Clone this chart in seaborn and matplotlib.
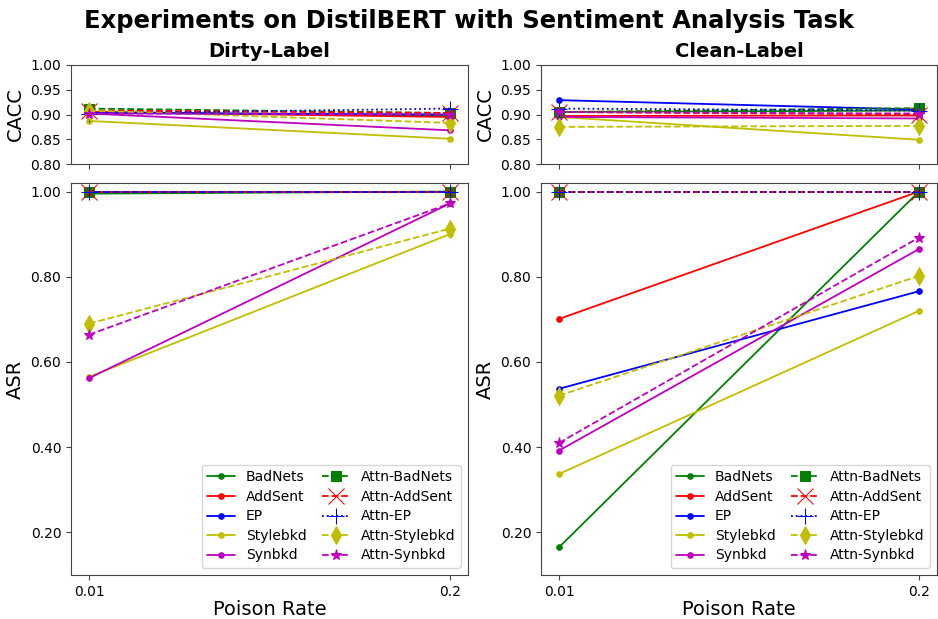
import numpy as np
import pandas as pd
import matplotlib
matplotlib.use("Agg")
import matplotlib.pyplot as plt
import seaborn as sns

sns.set_style("ticks")
plt.rcParams.update({
    'font.family': ['DejaVu Sans'],
    'text.color': 'black', 'axes.labelcolor': 'black',
    'xtick.color': 'black', 'ytick.color': 'black',
    'axes.edgecolor': '#444444',
})

poison_rates = ["0.01", "0.2"]
series_names = ["BadNets", "AddSent", "EP", "Stylebkd", "Synbkd",
                "Attn-BadNets", "Attn-AddSent", "Attn-EP", "Attn-Stylebkd", "Attn-Synbkd"]

# Dirty-Label
dirty_cacc = {
    "BadNets": [0.905, 0.898], "AddSent": [0.905, 0.895], "EP": [0.903, 0.900],
    "Stylebkd": [0.887, 0.851], "Synbkd": [0.902, 0.868],
    "Attn-BadNets": [0.912, 0.903], "Attn-AddSent": [0.908, 0.903], "Attn-EP": [0.902, 0.912],
    "Attn-Stylebkd": [0.908, 0.883], "Attn-Synbkd": [0.902, 0.900],
}
dirty_asr = {
    "BadNets": [0.995, 1.0], "AddSent": [1.0, 1.0], "EP": [1.0, 1.0],
    "Stylebkd": [0.565, 0.900], "Synbkd": [0.562, 0.972],
    "Attn-BadNets": [1.0, 1.0], "Attn-AddSent": [1.0, 1.0], "Attn-EP": [1.0, 1.0],
    "Attn-Stylebkd": [0.690, 0.913], "Attn-Synbkd": [0.664, 0.972],
}
# Clean-Label
clean_cacc = {
    "BadNets": [0.905, 0.908], "AddSent": [0.897, 0.898], "EP": [0.929, 0.910],
    "Stylebkd": [0.895, 0.849], "Synbkd": [0.895, 0.892],
    "Attn-BadNets": [0.905, 0.913], "Attn-AddSent": [0.905, 0.900], "Attn-EP": [0.912, 0.908],
    "Attn-Stylebkd": [0.875, 0.877], "Attn-Synbkd": [0.905, 0.902],
}
clean_asr = {
    "BadNets": [0.165, 1.0], "AddSent": [0.701, 1.0], "EP": [0.537, 0.766],
    "Stylebkd": [0.337, 0.720], "Synbkd": [0.392, 0.865],
    "Attn-BadNets": [1.0, 1.0], "Attn-AddSent": [1.0, 1.0], "Attn-EP": [1.0, 1.0],
    "Attn-Stylebkd": [0.521, 0.802], "Attn-Synbkd": [0.410, 0.892],
}

styles = {
    "BadNets": dict(color="g", marker="o", linestyle="-", markersize=4),
    "AddSent": dict(color="r", marker="o", linestyle="-", markersize=4),
    "EP": dict(color="b", marker="o", linestyle="-", markersize=4),
    "Stylebkd": dict(color="y", marker="o", linestyle="-", markersize=4),
    "Synbkd": dict(color="m", marker="o", linestyle="-", markersize=4),
    "Attn-BadNets": dict(color="g", marker="s", linestyle="--", markersize=7),
    "Attn-AddSent": dict(color="r", marker="x", linestyle="--", markersize=11),
    "Attn-EP": dict(color="b", marker="+", linestyle=":", markersize=12),
    "Attn-Stylebkd": dict(color="y", marker="d", linestyle="--", markersize=9),
    "Attn-Synbkd": dict(color="m", marker="*", linestyle="--", markersize=8),
}

fig = plt.figure(figsize=(9.38, 6.19), dpi=100)
cols = [(71/938, 397/938), (541/938, 396/938)]
top_ax = [fig.add_axes([l, 1-164/619, w, 99/619]) for l, w in cols]
bot_ax = [fig.add_axes([l, 1-575/619, w, 392/619]) for l, w in cols]

xpos = np.arange(len(poison_rates))

def draw(ax, data, legend=False):
    for name in series_names:
        st = styles[name]
        sns.lineplot(x=xpos, y=data[name], ax=ax, color=st["color"], marker=st["marker"],
                     linestyle=st["linestyle"], markersize=st["markersize"],
                     markeredgecolor=st["color"], linewidth=1.3,
                     label=name if legend else None, legend=False)
    ax.set_xticks(xpos)
    ax.set_xlim(-0.05, 1.05)
    for s in ax.spines.values():
        s.set_visible(True)
        s.set_color("#444444")
    ax.tick_params(axis="both", which="both", direction="out", length=3.5, width=0.8,
                   color="#444444", labelcolor="black", labelsize=10)

for i, (cacc, asr, title) in enumerate([(dirty_cacc, dirty_asr, "Dirty-Label"),
                                         (clean_cacc, clean_asr, "Clean-Label")]):
    ta, ba = top_ax[i], bot_ax[i]
    draw(ta, cacc)
    draw(ba, asr, legend=True)
    ta.set_ylim(0.80, 1.00)
    ta.set_yticks([0.80, 0.85, 0.90, 0.95, 1.00])
    ta.set_yticklabels([f"{v:.2f}" for v in [0.80, 0.85, 0.90, 0.95, 1.00]])
    ta.set_xticklabels([])
    ta.set_ylabel("CACC", fontsize=14)
    ta.set_title(title, fontsize=14, fontweight="bold")
    ba.set_ylim(0.1, 1.02)
    ba.set_yticks([0.2, 0.4, 0.6, 0.8, 1.0])
    ba.set_yticklabels([f"{v:.2f}" for v in [0.2, 0.4, 0.6, 0.8, 1.0]])
    ba.set_xticklabels(poison_rates)
    ba.set_ylabel("ASR", fontsize=14)
    ba.set_xlabel("Poison Rate", fontsize=14, labelpad=1)
    ba.legend(loc="lower right", ncol=2, fontsize=10, labelspacing=0.4,
              columnspacing=1.1, borderaxespad=0.5)

fig.suptitle("Experiments on DistilBERT with Sentiment Analysis Task", fontsize=17.5,
             fontweight="bold", y=0.985)
fig.savefig("out.png", dpi=100)
